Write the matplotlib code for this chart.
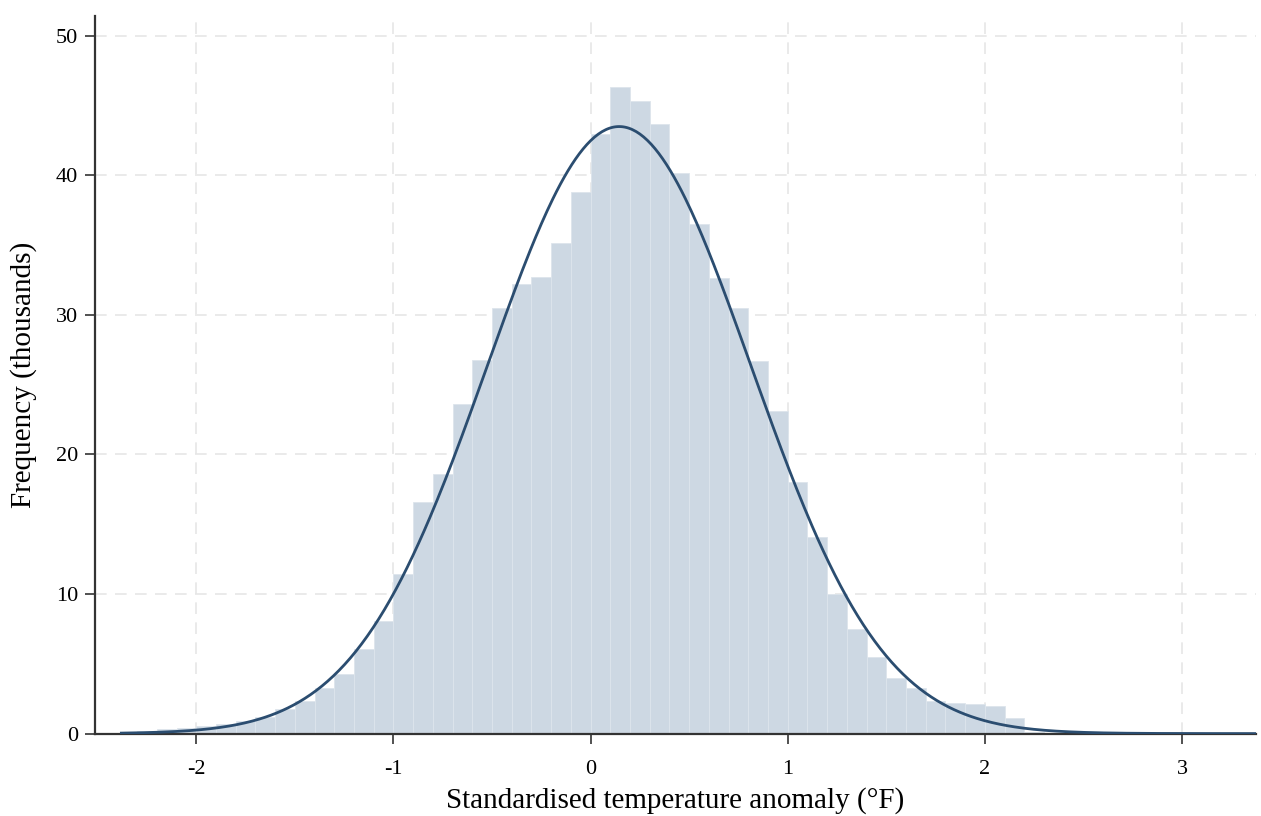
import numpy as np
import matplotlib
matplotlib.use("Agg")
import matplotlib.pyplot as plt

# Histogram bins (left edges) and frequencies (thousands)
bin_width = 0.1
bin_lefts = [-2.4, -2.3, -2.2, -2.1, -2.0, -1.9, -1.8, -1.7, -1.6, -1.5,
             -1.4, -1.3, -1.2, -1.1, -1.0, -0.9, -0.8, -0.7, -0.6, -0.5,
             -0.4, -0.3, -0.2, -0.1, 0.0, 0.1, 0.2, 0.3, 0.4, 0.5,
             0.6, 0.7, 0.8, 0.9, 1.0, 1.1, 1.2, 1.3, 1.4, 1.5,
             1.6, 1.7, 1.8, 1.9, 2.0, 2.1, 2.2]
frequency = [0.05, 0.15, 0.3, 0.42, 0.55, 0.72, 0.92, 1.2, 1.73, 2.35,
             3.28, 4.24, 6.03, 8.06, 11.47, 16.6, 18.59, 23.65, 26.8, 30.5,
             32.2, 32.7, 35.16, 38.83, 43.0, 46.3, 45.3, 43.7, 40.2, 36.5,
             32.65, 30.5, 26.7, 23.1, 18.04, 14.1, 10.0, 7.46, 5.5, 3.95,
             3.24, 2.35, 2.2, 2.1, 1.97, 1.13, 0.1]

# Fitted normal curve parameters
fit_mean = 0.145
fit_sd = 0.668
fit_peak = 43.5
curve_start, curve_end = -2.38, 3.37

x_ticks = [-2, -1, 0, 1, 2, 3]
y_ticks = [0, 10, 20, 30, 40, 50]

plt.rcParams['font.family'] = ['Liberation Serif', 'DejaVu Serif']

fig = plt.figure(figsize=(12.61, 8.16), dpi=100)
ax = fig.add_axes([0.0753, 0.101, 0.9207, 0.879])

ax.bar(bin_lefts, frequency, width=bin_width, align='edge',
       color='#cdd8e3', edgecolor='#dde5ec', linewidth=0.6, zorder=2)

xs = np.linspace(curve_start, curve_end, 600)
ys = fit_peak * np.exp(-0.5 * ((xs - fit_mean) / fit_sd) ** 2)
ax.plot(xs, ys, color='#2b4d70', linewidth=2.0, zorder=3)

ax.set_xlim(-2.514, 3.375)
ax.set_ylim(0, 51.4)
ax.set_xticks(x_ticks)
ax.set_yticks(y_ticks)
ax.set_xticklabels([str(t) for t in x_ticks])
ax.set_yticklabels([str(t) for t in y_ticks])

ax.grid(True, color='#e6e6e6', linestyle=(0, (7, 5)), linewidth=1.2, zorder=0)
ax.set_axisbelow(True)

for s in ['top', 'right']:
    ax.spines[s].set_visible(False)
for s in ['left', 'bottom']:
    ax.spines[s].set_color('#333333')
    ax.spines[s].set_linewidth(1.6)

ax.tick_params(axis='both', direction='out', length=7, width=1.2,
               color='#333333', labelsize=16, labelcolor='black')
ax.tick_params(axis='x', pad=12)
ax.tick_params(axis='y', pad=5)

ax.set_xlabel('Standardised temperature anomaly (°F)', fontsize=21, labelpad=6)
ax.set_ylabel('Frequency (thousands)', fontsize=21, labelpad=14)

fig.savefig('out.png', dpi=100)
